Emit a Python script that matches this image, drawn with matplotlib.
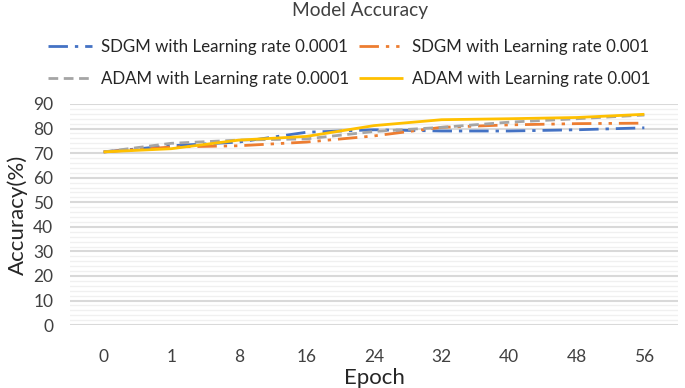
import matplotlib
matplotlib.use("Agg")
import matplotlib.pyplot as plt
from matplotlib.ticker import MultipleLocator

plt.rcParams['font.family'] = ['Lato', 'DejaVu Sans']

epochs = ["0", "1", "8", "16", "24", "32", "40", "48", "56"]
sdgm_1e4 = [70.5, 73.0, 74.5, 78.5, 79.5, 79.0, 79.0, 79.5, 80.3]
sdgm_1e3 = [70.5, 72.5, 73.0, 74.5, 77.0, 80.5, 81.5, 82.0, 82.2]
adam_1e4 = [70.5, 74.0, 75.3, 75.8, 78.8, 80.5, 82.6, 84.0, 85.5]
adam_1e3 = [70.5, 71.8, 75.3, 76.8, 81.2, 83.6, 84.0, 84.5, 85.8]

labels = ["SDGM with Learning rate 0.0001", "SDGM with Learning rate 0.001",
          "ADAM with Learning rate 0.0001", "ADAM with Learning rate 0.001"]
colors = ["#4472C4", "#ED7D31", "#A5A5A5", "#FFC000"]

fig = plt.figure(figsize=(6.85, 3.88), dpi=100)
ax = fig.add_axes([0.102, 0.162, 0.888, 0.570])

x = list(range(len(epochs)))
lw = 2.0
l1, = ax.plot(x, sdgm_1e4, color=colors[0], lw=lw, dashes=[7, 2.5, 1.2, 2.5])
l2, = ax.plot(x, sdgm_1e3, color=colors[1], lw=lw, dashes=[7, 2.5, 1.2, 2.5, 1.2, 2.5])
l3, = ax.plot(x, adam_1e4, color=colors[2], lw=lw, dashes=[3.5, 2])
l4, = ax.plot(x, adam_1e3, color=colors[3], lw=lw, solid_capstyle='butt')

ax.set_xlim(-0.5, len(epochs) - 0.5)
ax.set_ylim(0, 90)
ax.set_xticks(x)
ax.set_xticklabels(epochs)
ax.yaxis.set_major_locator(MultipleLocator(10))
ax.yaxis.set_minor_locator(MultipleLocator(2))
ax.grid(axis='y', which='major', color='#d9d9d9', lw=1.5)
ax.grid(axis='y', which='minor', color='#f0f0f0', lw=1.0)
ax.set_axisbelow(True)
for s in ax.spines.values():
    s.set_visible(False)
ax.tick_params(axis='both', which='both', length=0, labelsize=12.5, colors='#404040')
ax.tick_params(axis='y', pad=12)
ax.tick_params(axis='x', pad=17)

ax.set_ylabel("Accuracy(%)", fontsize=16, color='#262626', labelpad=4)
ax.set_xlabel("Epoch", fontsize=16, color='#262626', labelpad=2)

fig.text(0.525, 0.972, "Model Accuracy", ha='center', va='center', fontsize=13.8, color='#404040')

leg = fig.legend([l1, l3, l2, l4], [labels[0], labels[2], labels[1], labels[3]],
                 ncol=2, loc='center',
                 bbox_to_anchor=(0.51, 0.838), frameon=False, fontsize=12.2,
                 handlelength=2.6, columnspacing=0.6, handletextpad=0.5,
                 labelspacing=0.95)
for t in leg.get_texts():
    t.set_color('#262626')

fig.savefig("out.png", dpi=100)
